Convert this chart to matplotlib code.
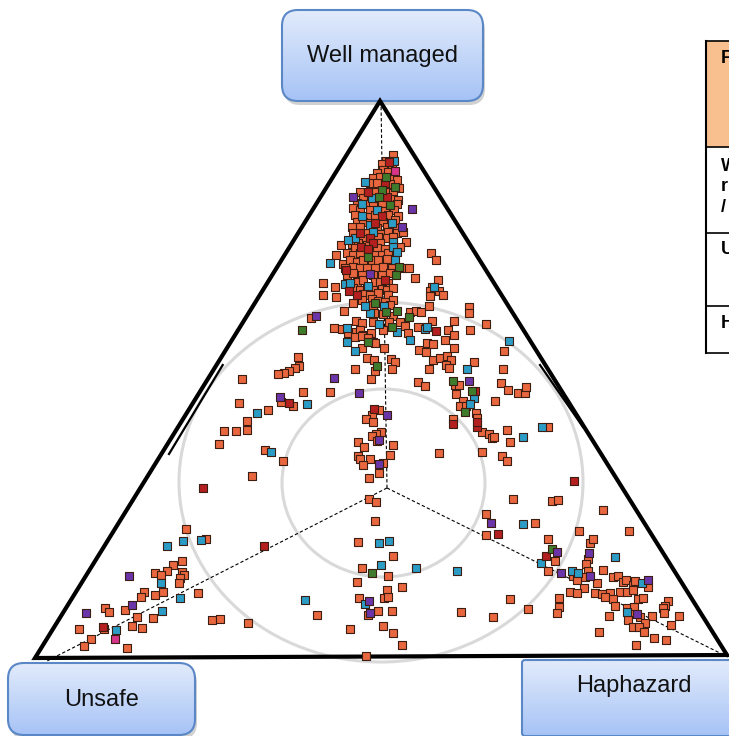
import numpy as np
import matplotlib
matplotlib.use('Agg')
import matplotlib.pyplot as plt
from matplotlib.patches import FancyBboxPatch, Ellipse, Polygon, Rectangle
from matplotlib.colors import LinearSegmentedColormap

plt.rcParams['font.family'] = ['Liberation Sans', 'DejaVu Sans']

# ---- data: point positions in chart units (x right, y down) ----
orange_pts = [
    (185.7,529.3),(206.3,539.3),(181.7,560.7),(173.3,565),(166.7,571),(155.3,573.3),(161.3,575),
    (181.7,571.7),(184,575),(180,578.3),(179,583.3),(144.3,592),(141,597.3),(155.3,595.3),(163,592),
    (197.7,593),(105.3,608.3),(109.3,612.3),(124.7,610.3),(137.3,617.3),(153.3,618.3),(212.3,620),
    (220,619.3),(248.3,623),(78.7,628.7),(104,629.3),(131.7,626),(142,627.7),(90.7,639.3),(84.3,645.7),
    (127,647.7),
    (323.3,295),(336,296.7),(344,311),(311,317.7),(334.3,328.3),(341.7,329.3),(352.3,331.7),(355.7,321),
    (361.7,323.3),(360,330),(362.7,335),(370.7,333.3),(373.3,321.7),(374,313.3),(382.7,314.3),(382.7,330),
    (393.3,316),(389.3,322.3),(400,321.7),(405,326),(410,311.7),(415.7,310.7),(420.7,311.7),(431.7,320.7),
    (418,327),(429.3,306),(454.3,321),(468.7,306.7),(468.7,313.3),(486,324.3),(447.7,330),(454,335),
    (470,330),(408.3,333.3),(419,350),(425.7,352),(427.3,343.3),(433.3,344.3),(445,340),(454,348.3),
    (504.3,351),(433.3,360.3),(440,358.3),(446.7,356),(450.7,360),(446,365),(449.3,368.3),(429.3,369.3),
    (474.3,361.7),(503.3,368.7),(347.7,333.3),(355,336.7),(361.7,336),(368.3,338.3),(372.7,341.7),
    (375,342.7),(362.3,348.3),(384.3,348.3),(367.3,358.3),(374,360),(391,359),(395,361.7),(375,370.7),
    (355,368.7),(392.3,369.3),(371,379),(298.3,357),(299.3,365.7),(295,368.3),(289,370.7),(284.3,372.7),
    (278.3,374.3),(241.7,379),(303,391.7),(330,391.7),(281,401.7),(292.7,406),(238.7,403.3),(268.3,409.7),
    (247.3,421.3),(224.3,431),(236,431),(246.7,430),(218.7,444.3),(265.3,450),(283.3,461),(252.3,476),
    (379,410),(372.3,415),(365.7,419.3),(373.3,422.3),(381.3,432.3),(376,434),(371.7,436),(376.7,441.3),
    (357.7,441.7),(364.3,447.3),(393.3,445.3),(357.7,455.7),(360,459),(370,459),(390,455),(362.7,465.3),
    (383.3,463.3),(379,473.3),(369,478.3),(369.3,499.3),(376,502),
    (455,385),(459.3,385),(418.3,382.3),(425,386),(456,393.7),(463,400.7),(460,406),(466,406),
    (501.3,383.3),(508.3,389.7),(517.7,392.7),(525,393.3),(525.7,386.7),(495,401),(476,413.3),
    (477.3,417.7),(452.7,419.3),(481.7,431.7),(489.3,434),(491.7,438.3),(494.3,437.3),(507.3,430),
    (548.3,426.7),(510,441.7),(439.3,453.3),(481.7,452.3),(502.3,455.7),(507.3,460.7),(513.3,499),
    (552.3,501),(557.7,500),(486,514.3),
    (375,521.3),(358.3,542.3),(393.3,556),(361.7,568.3),(388.3,575.7),(357.3,581.7),(387.3,590),
    (401.7,587.3),(359.3,598.3),(384,598),(388.3,597),(317.3,615.3),(368.3,615),(377.7,611.3),
    (392.3,611.3),(382.7,626),(350,628.7),(393.3,632.7),(401.7,645),(365.7,656),(486,535),(461,612.3),
    (493,617.3),
    (535,523.3),(603.3,510),(579,531),(629.3,531),(548.3,539.3),(590,543.3),(593.3,538.7),(587.7,559.3),
    (555,561),(585.7,564),(547.7,570.7),(603.3,570),(588.3,570.7),(573.3,576),(585,577.3),(576.7,580),
    (597.3,583.3),(613.3,576.7),(618.3,576),(622.7,581.7),(625.7,580),(633.3,585),(635,580.7),
    (648.3,586.7),(584.3,588.3),(570,592.3),(577.3,593.3),(595,593.3),(601.7,594.3),(610,593.3),
    (620,591.7),(626.7,592.3),(632.7,590),(605,596.7),(612.7,599.3),(637.7,599),(643.3,598.3),
    (559.3,598.3),(510,599.3),(559,607.3),(528.3,609.3),(615,606),(557.3,613.3),(668.3,601),(665,606),
    (663.3,608.3),(664.3,612.7),(626.7,608.3),(634,607.3),(631,614.3),(640,616.7),(652.3,616),(679,616),
    (609,616),(628.3,620),(645.3,623.3),(671,625),(633.3,627.3),(639,627.3),(599.3,631.7),(644,632.3),
    (654,637.7),(666,640),(635.7,645),
    # top cluster
    (392.7,155),(386,160.7),(381.7,164),(391.7,165),(383.3,170),(388.3,171.7),(377.3,173.3),(373.3,178.3),
    (380,176.7),(391.7,179.3),(396.7,180),(370,182.7),(376.7,183.3),(390,184),(399,188.3),(360,191.7),
    (375,191.7),(386.7,191.7),(393.3,193.3),(363.3,198.3),(391.7,199.3),(398.3,200),(356.7,203.3),
    (366.7,204),(373.3,205),(381.7,203.3),(396.7,204),(353.3,208.3),(360,210),(370,210),(385,210.7),
    (394,210),(355,215),(368.3,216.7),(375,215),(388.3,215),(398.3,216),(356.7,221.7),(363.3,221.7),
    (370,222.7),(383.3,221.7),(395,220),(351.7,227.3),(360,227.3),(376.7,228.3),(386.7,226.7),
    (396.7,228.3),(353.3,233.3),(366.7,233.3),(380,234),(388.3,231.7),(396.7,232.7),(402.7,231.7),
    (361.7,239.3),(378.3,237.3),(386.7,238.3),(393.3,236.7),(406,241.7),(351.7,244),(358.3,243.3),
    (366.7,245),(380,243.3),(340.7,245),(355,248.3),(376.7,248.3),(385,249.3),(400,246.7),(336,255),
    (346.7,253.3),(353.3,255),(360,253.3),(375,255),(381.7,255),(388.3,253.3),(343.3,264),(350,260),
    (356.7,261.7),(363.3,260),(371.7,260),(378.3,260),(386.7,259.3),(345,268.3),(353.3,267.3),
    (360,268.3),(366.7,268.3),(375,268.3),(383.3,266.7),(391.7,268.3),(403.3,268.3),(409.3,268.3),
    (323.3,283.3),(335,286.7),(346.7,275),(353.3,273.3),(361.7,275),(373.3,275),(381.7,275),(390,272.7),
    (415,278.3),(356.7,281.7),(363.3,280),(375,281.7),(380,281.7),(388.3,283.3),(353.3,288.3),(360,290),
    (366.7,288.3),(373.3,290),(381.7,289.3),(386.7,290),(393.3,288.3),(363.3,294),(370,295),(378.3,293.3),
    (388.3,295),(361.7,300),(371.7,299.3),(378.3,301),(385,301.7),(393.3,300),(353.3,303.3),(373.3,305),
    (390,305),(431,253.3),(436,260),(438.3,280),(431.7,286.7),(430,291),(430,296),(439,290.7),(442.7,295),
]

teal_pts = [
    (166.7,546),(183,541.3),(201.3,540),(161,583.3),(180.3,598),(162,611),(116,630.3),
    (346.7,328.3),(370,313.3),(379.3,324.3),(384,306),(396.7,331.7),(425,329),(427.3,326.7),(508.7,341),
    (410,340),(347.3,341.7),(355,351),(466.7,368.7),(306.7,404),(257,412.7),(271.3,451.7),(474,398),
    (470,404.3),(542.3,426.7),(522.7,436.7),
    (378.7,543.3),(389.3,541.3),(380.7,565.3),(416,568),(457.3,571),(365,604),(305,599.7),
    (522.7,524),(614.7,556.7),(540.7,563.3),(571.7,570.7),(577.7,573.3),(642.3,583.3),(626.7,611.7),
    (394,160.7),(365.3,181.7),(371.7,198.3),(361.7,204.3),(376.7,210),(361.7,216),(391.7,222.7),
    (370,225),(373.3,231.7),(355,238.3),(392.7,241.7),(348.3,240),(393.3,246.7),(396.7,251.7),
    (330,262.7),(395,260),(345,284.3),(350,283.3),(368.3,285.7),(365,305.7),(434.3,286.7),
]

darkred_pts = [
    (102.7,626.7),(435.7,331),(289.3,402.7),(203.3,487.7),(374.3,409),(474.7,390.7),(477.3,426.7),
    (476.7,421.7),(453.3,424),(574.3,481),(264.3,546.3),(498.3,534.3),(545.7,556),
    (389.3,162.3),(385,183.3),(368.3,191.7),(386.7,197.3),(381.7,216),(375,223.3),(360,232.7),
    (370,238.3),(373.3,243.3),(360.7,247.3),(368.3,249.3),(346,270),(385,280),(356.7,295),(349,291),
]

green_pts = [
    (301.7,330),(386,312.3),(397,311.3),(392.3,326.7),(408.7,316.7),(367.7,342),(376.7,366),
    (452.7,381),(472.3,390.7),(465,411.7),(372.3,572.7),(552.3,549.3),
    (385.7,176.7),(395,186.7),(381.7,190),(379.3,197.3),(390,205),(368.3,257.3),(399,266.7),
    (396,275),(375,303.3),
]

purple_pts = [
    (129.3,576),(85.7,613.3),(131.7,604.7),(316,315.7),(334.3,378.3),(359,392.7),(280,397.3),
    (387.3,414.7),(379.3,440),(379.3,464),(468.7,381),(369.3,600.7),(370,613.3),(490.7,523.3),
    (556.7,551.7),(588.7,553.3),(560.7,573.3),(590,575.7),(648.3,580),(636.7,614.3),
    (353.3,197.3),(411.7,209.3),(401.7,226.7),(370,274),
]

magenta_pts = [(395,170.7),(115,639.3)]

series = [
    (orange_pts, '#e8673f'),
    (teal_pts, '#2b9cc6'),
    (darkred_pts, '#b3201f'),
    (green_pts, '#3f7b2c'),
    (purple_pts, '#6a35a8'),
    (magenta_pts, '#d6338a'),
]

corner_labels = ['Well managed', 'Unsafe', 'Haphazard']
table_rows = ['F', 'W\nr\n/', 'U', 'H']

# ---- figure ----
fig = plt.figure(figsize=(7.29, 7.36), dpi=100)
ax = fig.add_axes([0, 0, 1, 1])
W, H = 729, 736


def grad_box(x0, y0, x1, y1, r, label, ty):
    sh = FancyBboxPatch((x0 + 2, y0 + 4), x1 - x0, y1 - y0,
                        boxstyle='round,pad=0,rounding_size=%g' % r,
                        fc='#9a9a9a', ec='none', alpha=0.45, zorder=2)
    ax.add_patch(sh)
    box = FancyBboxPatch((x0, y0), x1 - x0, y1 - y0,
                         boxstyle='round,pad=0,rounding_size=%g' % r,
                         fc='none', ec='#5a87c6', lw=1.5, zorder=4)
    ax.add_patch(box)
    cmap = LinearSegmentedColormap.from_list('g', ['#e2ebfb', '#a6c3f6'])
    grad = np.linspace(0, 1, 100).reshape(-1, 1)
    im = ax.imshow(grad, cmap=cmap, extent=(x0, x1, y1, y0), origin='upper',
                   aspect='auto', zorder=3, interpolation='bilinear')
    im.set_clip_path(box)
    ax.text((x0 + x1) / 2, ty, label, ha='center', va='center',
            fontsize=17, color='#111111', zorder=5)


grad_box(282, 10, 483, 101, 16, corner_labels[0], 56)
grad_box(8, 663, 195, 735, 16, corner_labels[1], 700)
grad_box(522, 660, 745, 736, 3, corner_labels[2], 686)

# circles
ax.add_patch(Ellipse((381, 482), 404, 360, fill=False, ec='#d9d9d9', lw=2.2, zorder=1))
ax.add_patch(Ellipse((383.5, 483), 203, 188, fill=False, ec='#d9d9d9', lw=2.2, zorder=1))

# triangle
ax.add_patch(Polygon([(380, 101), (35, 658), (727, 655)], closed=True, fill=False,
                     ec='black', lw=3, joinstyle='miter', zorder=6))
ax.plot([222.7, 169], [365, 454], color='black', lw=1.6, zorder=6)
ax.plot([540, 583], [365, 427], color='black', lw=1.6, zorder=6)

# dashed axes
cx, cy = 387, 488
for ex, ey in [(381, 101), (47, 661), (728, 657)]:
    ax.plot([cx, ex], [cy, ey], color='black', lw=0.8, dashes=(3, 2), zorder=1.5)

# points
for pts, col in series:
    a = np.array(pts)
    ax.scatter(a[:, 0], a[:, 1], marker='s', s=34, c=col, edgecolors='#3b1d12',
               linewidths=0.8, zorder=7)

# clipped table at the right edge
ax.add_patch(Rectangle((706, 41), 40, 106, fc='#f9c08f', ec='none', zorder=2))
ax.plot([706, 706], [41, 353], color='black', lw=1.5, zorder=3)
for yy in [41, 147, 233, 306, 353]:
    ax.plot([706, 740], [yy, yy], color='black', lw=1.2, zorder=3)
for txt, ty in zip(table_rows, [50, 158, 241, 315]):
    ax.text(721, ty, txt, ha='left', va='top', fontsize=13, fontweight='bold',
            linespacing=1.25, zorder=4)

ax.set_xlim(0, W)
ax.set_ylim(H, 0)
ax.axis('off')
fig.savefig('out.png', dpi=100)
